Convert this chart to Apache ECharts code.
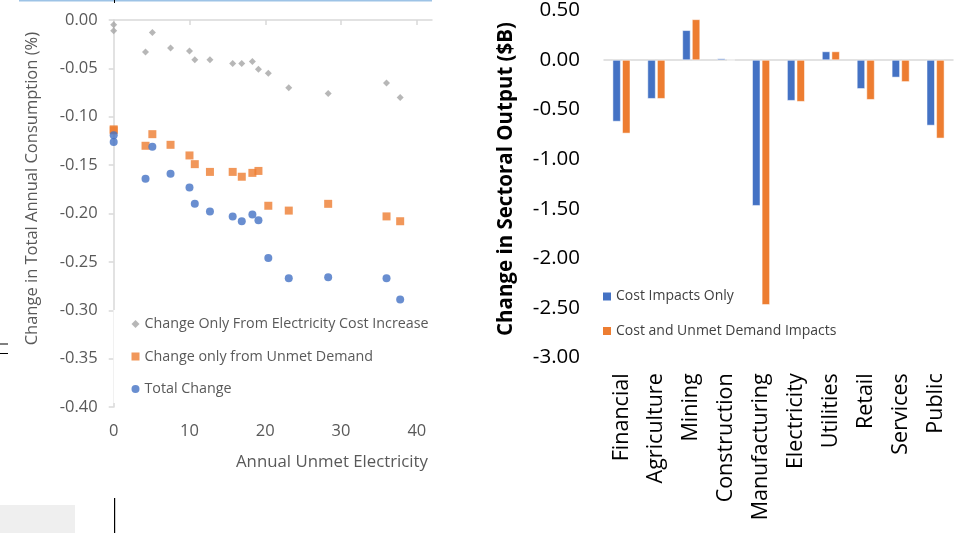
<!DOCTYPE html>
<html>
<head>
<meta charset="utf-8">
<script src="https://cdn.jsdelivr.net/npm/echarts@6/dist/echarts.min.js"></script>
<style>html,body{margin:0;padding:0;background:#fff}#c{width:973px;height:533px}</style>
</head>
<body>
<div id="c"></div>
<script>
// ---- Left chart data ----
const unmetX = [0, 0, 4.2, 5.1, 7.5, 10.0, 10.7, 12.7, 15.7, 16.9, 18.3, 19.1, 20.4, 23.1, 28.3, 36.0, 37.8];
const costOnly = [-0.005, -0.011, -0.033, -0.013, -0.029, -0.032, -0.041, -0.041, -0.045, -0.045, -0.043, -0.051, -0.055, -0.070, -0.076, -0.065, -0.080];
const unmetOnly = [-0.113, -0.114, -0.130, -0.118, -0.129, -0.140, -0.149, -0.157, -0.157, -0.162, -0.158, -0.156, -0.192, -0.197, -0.190, -0.203, -0.208];
const totalChange = [-0.119, -0.126, -0.164, -0.131, -0.159, -0.173, -0.190, -0.198, -0.203, -0.208, -0.201, -0.207, -0.246, -0.267, -0.266, -0.267, -0.289];
const leftXTicks = [0, 10, 20, 30, 40];
const leftNames = ['Change Only From Electricity Cost Increase', 'Change only from Unmet Demand', 'Total Change'];

// ---- Right chart data ----
const sectors = ['Financial', 'Agriculture', 'Mining', 'Construction', 'Manufacturing', 'Electricity', 'Utilities', 'Retail', 'Services', 'Public'];
const costImpacts = [-0.62, -0.39, 0.30, 0.015, -1.47, -0.41, 0.086, -0.29, -0.175, -0.66];
const costUnmetImpacts = [-0.74, -0.39, 0.41, 0.0, -2.47, -0.42, 0.086, -0.40, -0.22, -0.79];
const rightNames = ['Cost Impacts Only', 'Cost and Unmet Demand Impacts'];

const FONT = 'Open Sans';
const zip = (xs, ys) => xs.map((x, i) => [x, ys[i]]);

const chart = echarts.init(document.getElementById('c'), null, {renderer: 'canvas'});
chart.setOption({
  animation: false,
  textStyle: {fontFamily: FONT},
  grid: [
    {left: 113.7, top: 20, width: 318.3, height: 387},
    {left: 604, top: 7.3, width: 349, height: 350}
  ],
  xAxis: [
    {gridIndex: 0, type: 'value', position: 'top', min: 0, max: 42, interval: 10,
      axisLine: {show: true, onZero: false, lineStyle: {color: '#d9d9d9', width: 1.5}},
      axisTick: {show: true, inside: true, length: 5, customValues: leftXTicks, lineStyle: {color: '#d9d9d9', width: 1.5}},
      axisLabel: {show: false}, splitLine: {show: false}},
    {gridIndex: 0, type: 'value', position: 'bottom', min: 0, max: 42, interval: 10,
      axisLine: {show: false, onZero: false}, axisTick: {show: false}, splitLine: {show: false},
      axisLabel: {show: true, customValues: leftXTicks, margin: 16, color: '#595959', fontSize: 16.5, fontFamily: FONT}},
    {gridIndex: 1, type: 'category', data: sectors,
      axisLine: {show: true, onZero: true, lineStyle: {color: '#d9d9d9', width: 1.5}},
      axisTick: {show: false}, axisLabel: {show: false}},
    {gridIndex: 1, type: 'category', data: sectors, position: 'bottom',
      axisLine: {show: false, onZero: false}, axisTick: {show: false},
      axisLabel: {show: true, rotate: 90, margin: 16, color: '#000', fontSize: 21.5, fontFamily: FONT}}
  ],
  yAxis: [
    {gridIndex: 0, type: 'value', min: -0.4, max: 0, interval: 0.05,
      axisLine: {show: true, lineStyle: {color: '#d9d9d9', width: 1.5}},
      axisTick: {show: true, length: 5, lineStyle: {color: '#d9d9d9', width: 1.5}},
      splitLine: {show: false},
      axisLabel: {margin: 16, color: '#595959', fontSize: 16.5, fontFamily: FONT, formatter: v => v.toFixed(2)}},
    {gridIndex: 1, type: 'value', min: -3, max: 0.5, interval: 0.5,
      axisLine: {show: false}, axisTick: {show: false}, splitLine: {show: false},
      axisLabel: {margin: 24, color: '#000', fontSize: 20.5, fontFamily: FONT, formatter: v => v.toFixed(2)}}
  ],
  legend: [
    {orient: 'vertical', left: 113.5, top: 310, padding: [6, 8, 6, 18], backgroundColor: '#fff',
      itemWidth: 8, itemHeight: 8, itemGap: 16.5, z: 10,
      textStyle: {color: '#595959', fontSize: 14.3, lineHeight: 16, fontFamily: FONT},
      data: [
        {name: leftNames[0], icon: 'diamond'},
        {name: leftNames[1], icon: 'rect'},
        {name: leftNames[2], icon: 'circle'}
      ]},
    {orient: 'vertical', left: 599, top: 284.5, padding: [4, 4, 4, 4],
      itemWidth: 8, itemHeight: 8, itemGap: 18.5, itemStyle: {borderWidth: 0},
      textStyle: {color: '#404040', fontSize: 14, lineHeight: 16, fontFamily: FONT},
      data: [{name: rightNames[0], icon: 'rect'}, {name: rightNames[1], icon: 'rect'}]}
  ],
  series: [
    {name: leftNames[0], type: 'scatter', xAxisIndex: 0, yAxisIndex: 0, symbol: 'diamond', symbolSize: 7,
      itemStyle: {color: '#a5a5a5'}, data: zip(unmetX, costOnly)},
    {name: leftNames[1], type: 'scatter', xAxisIndex: 0, yAxisIndex: 0, symbol: 'rect', symbolSize: 8,
      itemStyle: {color: '#ed7d31'}, data: zip(unmetX, unmetOnly)},
    {name: leftNames[2], type: 'scatter', xAxisIndex: 0, yAxisIndex: 0, symbol: 'circle', symbolSize: 8,
      itemStyle: {color: '#4472c4'}, data: zip(unmetX, totalChange)},
    {name: rightNames[0], type: 'bar', xAxisIndex: 2, yAxisIndex: 1, barWidth: 8, barGap: '20%',
      itemStyle: {color: '#4472c4', borderColor: '#fff', borderWidth: 0.5}, data: costImpacts},
    {name: rightNames[1], type: 'bar', xAxisIndex: 2, yAxisIndex: 1, barWidth: 8, barGap: '20%',
      itemStyle: {color: '#ed7d31', borderColor: '#fff', borderWidth: 0.5}, data: costUnmetImpacts}
  ],
  graphic: [
    {type: 'text', left: 24, top: 32, rotation: Math.PI / 2, z: 5,
      style: {text: 'Change in Total Annual Consumption (%)', fill: '#595959', font: '16.5px "Open Sans"'}},
    {type: 'text', left: 236, top: 454, z: 5,
      style: {text: 'Annual Unmet Electricity', fill: '#595959', font: '16.8px "Open Sans"'}},
    {type: 'text', left: 496, top: 22, rotation: Math.PI / 2, z: 5,
      style: {text: 'Change in Sectoral Output ($B)', fill: '#000', font: 'bold 20.5px "Open Sans"'}},
    {type: 'rect', shape: {x: 19, y: 0, width: 413, height: 1.5}, style: {fill: '#9dc3e6'}, silent: true},
    {type: 'rect', shape: {x: 114, y: 0, width: 1, height: 3}, style: {fill: '#000'}, silent: true},
    {type: 'rect', shape: {x: 0, y: 505, width: 75, height: 28}, style: {fill: '#efefef'}, silent: true},
    {type: 'rect', shape: {x: 114, y: 498, width: 1.2, height: 35}, style: {fill: '#000'}, silent: true},
    {type: 'rect', shape: {x: 0, y: 343.5, width: 8, height: 1}, style: {fill: '#000'}, silent: true},
    {type: 'rect', shape: {x: 0, y: 353, width: 8, height: 1}, style: {fill: '#000'}, silent: true}
  ]
});
</script>
</body>
</html>
